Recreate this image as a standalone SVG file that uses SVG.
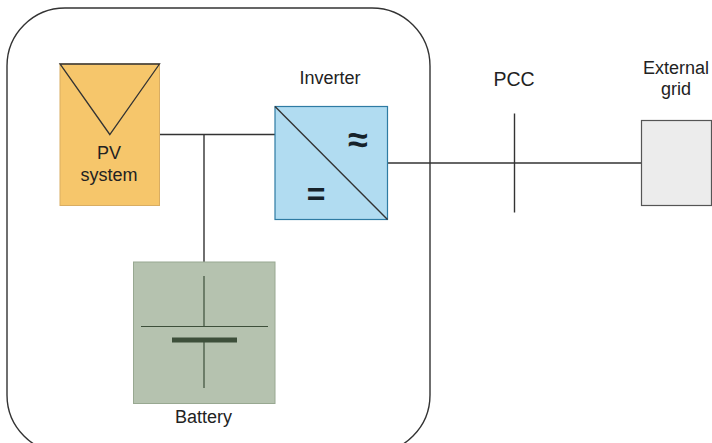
<svg xmlns="http://www.w3.org/2000/svg" width="712" height="443" viewBox="0 0 712 443">
<style>
text{font-family:"Liberation Sans",Arial,sans-serif;fill:#222;text-anchor:middle;font-size:18px}
.ln{fill:none;stroke:#333;stroke-width:1.4}
.bat{fill:none;stroke:#3d4f3a;stroke-width:1.2}
.sym{font-size:36px;font-weight:bold;fill:#16222a}
.eq{fill:#16222a;font-size:32px;font-weight:bold}
</style>
<rect width="712" height="443" fill="#fff"/>
<g id="boundary"><rect x="7" y="8" width="423" height="445" rx="58" ry="58" fill="#fff" stroke="#333" stroke-width="1.4"/></g>
<g id="connectors">
<path class="ln" d="M160 134.500H275"/>
<path class="ln" d="M204 134.500V262"/>
<path class="ln" d="M388 163H642"/>
</g>
<g id="pv">
<rect x="60" y="64" width="99.500" height="141.500" fill="#f6c66b" stroke="#d9ad62" stroke-width="1"/>
<path d="M60 64H159.500L109.800 134.500Z" fill="none" stroke="#333" stroke-width="1.300"/>
<text x="109" y="159">PV</text>
<text x="109" y="181">system</text>
</g>
<g id="inverter">
<rect x="275" y="106.500" width="112.500" height="113" fill="#b1dcf1" stroke="#2e7ba3" stroke-width="1.200"/>
<path d="M275 106.500L387.500 219.500" class="ln"/>
<text class="sym" x="358" y="152">≈</text>
<text class="eq" x="316" y="205">=</text>
</g>
<text id="inverter-label" x="330" y="84">Inverter</text>
<g id="battery">
<rect x="133.500" y="262" width="141.500" height="141.500" fill="#b5c2af" stroke="#98a891" stroke-width="1"/>
<path class="bat" d="M204 276V326.500M141 326.500H268M204 340V388"/>
<rect x="172" y="337.500" width="65" height="5" fill="#3d4f3a"/>
<text x="203.500" y="423">Battery</text>
</g>
<g id="pcc">
<path class="ln" d="M514.500 113.500V212.500"/>
<text x="514" y="86" style="font-size:19.500px">PCC</text>
</g>
<g id="grid">
<rect x="641.500" y="120.500" width="70" height="85" fill="#ececec" stroke="#555" stroke-width="1.200"/>
<text x="676" y="74">External</text>
<text x="676" y="95">grid</text>
</g>
</svg>
